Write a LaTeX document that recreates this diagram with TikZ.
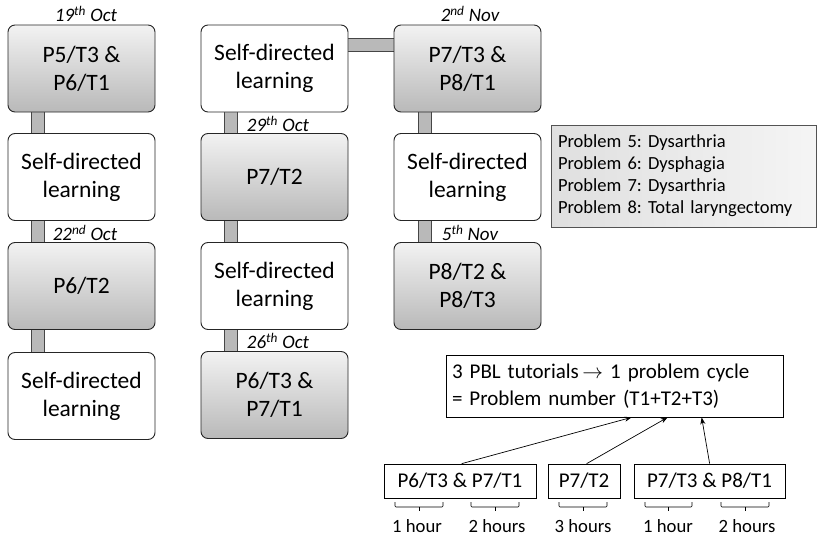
\documentclass[tikz,border=0pt]{standalone}
\usepackage{fontspec}
\setmainfont{Carlito}
\usetikzlibrary{arrows.meta,calc,backgrounds}
\frenchspacing

\begin{document}
\begin{tikzpicture}[x=1pt,y=-1pt,
  box/.style={rounded corners=7pt, minimum width=147pt, minimum height=87pt,
    align=center, font=\fontsize{23.5}{28}\selectfont, line width=0.9pt, draw=black!85},
  tut/.style={box, top color=gray!10, bottom color=gray!55},
  sdl/.style={box, fill=white},
  datelbl/.style={font=\itshape\fontsize{19}{20}\selectfont},
  bar/.style={line width=1pt, draw=gray!55!black, double=gray!55, double distance=12pt},
  legend/.style={draw=gray!65!black, line width=0.6pt, left color=gray!25, right color=gray!8,
    minimum width=265pt, minimum height=102pt, text width=251pt, align=left,
    font=\fontsize{18.5}{22}\selectfont, inner sep=7pt},
  plainbox/.style={draw=black, line width=0.7pt, fill=white, font=\fontsize{21}{27}\selectfont},
  arr/.style={-{Stealth[length=7pt,width=5pt]}, line width=0.7pt},
  brk/.style={line width=0.6pt, rounded corners=1pt},
  hours/.style={font=\fontsize{18.7}{20}\selectfont}
]
\useasboundingbox (0,0) rectangle (817,538);

% first column
\node[tut] (a1) at (81.5,68.5) {P5/T3 \&\\P6/T1};
\node[sdl] (a2) at (81.5,177) {Self-directed\\learning};
\node[tut] (a3) at (81.5,286) {P6/T2};
\node[sdl] (a4) at (81.5,396) {Self-directed\\learning};

% second column
\node[sdl] (b1) at (274.5,68.5) {Self-directed\\learning};
\node[tut] (b2) at (274.5,177) {P7/T2};
\node[sdl] (b3) at (274.5,286) {Self-directed\\learning};
\node[tut] (b4) at (274.5,395) {P6/T3 \&\\P7/T1};

% third column
\node[tut] (c1) at (467.5,68.5) {P7/T3 \&\\P8/T1};
\node[sdl] (c2) at (467.5,177) {Self-directed\\learning};
\node[tut] (c3) at (467.5,286) {P8/T2 \&\\P8/T3};

% links between sessions
\begin{scope}[on background layer]
  \draw[bar] ($(a1.south west)+(30,0)$) -- ($(a2.north west)+(30,0)$);
  \draw[bar] ($(a2.south west)+(30,0)$) -- ($(a3.north west)+(30,0)$);
  \draw[bar] ($(a3.south west)+(30,0)$) -- ($(a4.north west)+(30,0)$);
  \draw[bar] ($(a4.north east)+(0,20)$) -- ($(a4.north east)+(0,20)$ -| b4.west);
  \draw[bar] ($(b4.north west)+(30,0)$) -- ($(b3.south west)+(30,0)$);
  \draw[bar] ($(b3.north west)+(30,0)$) -- ($(b2.south west)+(30,0)$);
  \draw[bar] ($(b2.north west)+(30,0)$) -- ($(b1.south west)+(30,0)$);
  \draw[bar] ($(b1.north east)+(0,20)$) -- ($(c1.north west)+(0,20)$);
  \draw[bar] ($(c1.south west)+(31,0)$) -- ($(c2.north west)+(31,0)$);
  \draw[bar] ($(c2.south west)+(31,0)$) -- ($(c3.north west)+(31,0)$);
\end{scope}

% dates
\node[datelbl] (d1) at (86,14) {19\textsuperscript{th} Oct};
\node[datelbl] (d2) at (85,233) {22\textsuperscript{nd} Oct};
\node[datelbl] (d3) at (278,341) {26\textsuperscript{th} Oct};
\node[datelbl] (d4) at (278,124) {29\textsuperscript{th} Oct};
\node[datelbl] (d5) at (470,14) {2\textsuperscript{nd} Nov};
\node[datelbl] (d6) at (470,233) {5\textsuperscript{th} Nov};

% problem list
\node[legend] (leg) at (683.5,176) {Problem 5: Dysarthria\\Problem 6: Dysphagia\\Problem 7: Dysarthria\\Problem 8: Total laryngectomy};

% tutorial cycle explanation
\node[plainbox, minimum width=337pt, minimum height=62pt, text width=325pt, align=left, inner sep=6pt]
  (sum) at (614.5,386) {3 PBL tutorials\,$\rightarrow$ 1 problem cycle\\= Problem number (T1+T2+T3)};
\node[plainbox, minimum width=152pt, minimum height=34pt, inner sep=2pt] (ta) at (460,481) {P6/T3 \& P7/T1};
\node[plainbox, minimum width=72pt, minimum height=34pt, inner sep=2pt] (tb) at (584,481) {P7/T2};
\node[plainbox, minimum width=151pt, minimum height=34pt, inner sep=2pt] (tc) at (709.5,481) {P7/T3 \& P8/T1};

\draw[arr] ($(ta.north west)+(78,0)$) -- ($(sum.south west)+(186,0)$);
\draw[arr] ($(tb.north west)+(39,0)$) -- ($(sum.south west)+(222,0)$);
\draw[arr] ($(tc.north west)+(76,0)$) -- ($(sum.south west)+(256,0)$);

% time brackets
\foreach \l/\r in {395/443, 471/519, 559/607, 645/692, 721/769}{
  \draw[brk] (\l,502) -- (\l,507) -- (\r,507) -- (\r,502);
  \draw[line width=0.6pt] ({(\l+\r)/2},507) -- ({(\l+\r)/2},511);
}
\node[hours] (h1) at (417,526) {1 hour};
\node[hours] (h2) at (497,526) {2 hours};
\node[hours] (h3) at (583,526) {3 hours};
\node[hours] (h4) at (668,526) {1 hour};
\node[hours] (h5) at (747,526) {2 hours};
\end{tikzpicture}
\end{document}
